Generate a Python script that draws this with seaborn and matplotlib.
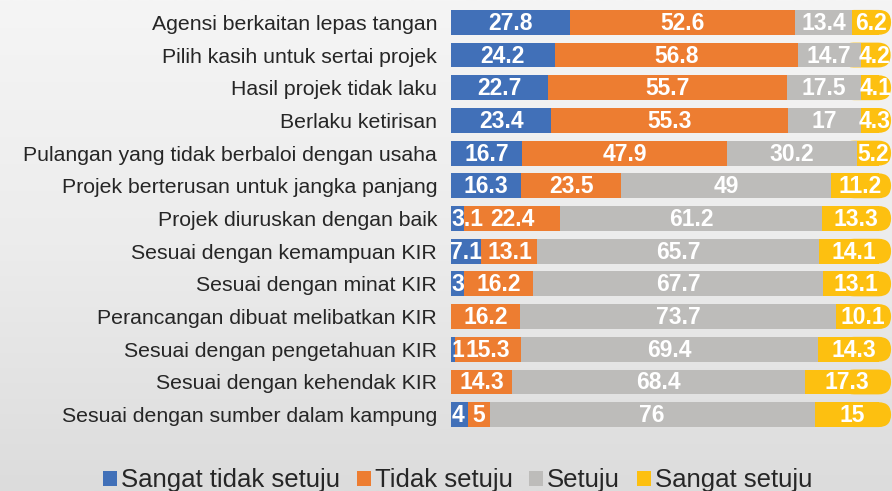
import numpy as np
import pandas as pd
import matplotlib
matplotlib.use("Agg")
import matplotlib.pyplot as plt
import seaborn as sns
from matplotlib.patches import Patch, FancyBboxPatch

categories = [
    "Agensi berkaitan lepas tangan",
    "Pilih kasih untuk sertai projek",
    "Hasil projek tidak laku",
    "Berlaku ketirisan",
    "Pulangan yang tidak berbaloi dengan usaha",
    "Projek berterusan untuk jangka panjang",
    "Projek diuruskan dengan baik",
    "Sesuai dengan kemampuan KIR",
    "Sesuai dengan minat KIR",
    "Perancangan dibuat melibatkan KIR",
    "Sesuai dengan pengetahuan KIR",
    "Sesuai dengan kehendak KIR",
    "Sesuai dengan sumber dalam kampung",
]
series_names = ["Sangat tidak setuju", "Tidak setuju", "Setuju", "Sangat setuju"]
sangat_tidak_setuju = [27.8, 24.2, 22.7, 23.4, 16.7, 16.3, 3.1, 7.1, 3, 0, 1, 0, 4]
tidak_setuju = [52.6, 56.8, 55.7, 55.3, 47.9, 23.5, 22.4, 13.1, 16.2, 16.2, 15.3, 14.3, 5]
setuju = [13.4, 14.7, 17.5, 17, 30.2, 49, 61.2, 65.7, 67.7, 73.7, 69.4, 68.4, 76]
sangat_setuju = [6.2, 4.2, 4.1, 4.3, 5.2, 11.2, 13.3, 14.1, 13.1, 10.1, 14.3, 17.3, 15]

colors = ["#4170b8", "#ed7d31", "#bdbcba", "#fdc010"]

sns.set_theme(style="white")
plt.rcParams["font.family"] = ["Liberation Sans", "DejaVu Sans"]

fig = plt.figure(figsize=(8.92, 4.91), dpi=100)

# background gradient
bg = fig.add_axes([0, 0, 1, 1], zorder=0)
grad = np.linspace(0, 1, 256).reshape(-1, 1)
bg.imshow(grad, aspect="auto", cmap=matplotlib.colors.LinearSegmentedColormap.from_list(
    "bgc", ["#f5f5f5", "#ececec", "#dcdcdc"]), extent=[0, 1, 0, 1], origin="upper")
bg.set_axis_off()

ax_px_w = 441
px_per_unit = 4.28
xmax = ax_px_w / px_per_unit
ax = fig.add_axes([451 / 892, (491 - 431) / 491, ax_px_w / 892, 425 / 491], zorder=1)
ax.patch.set_alpha(0)
ax.set_xlim(0, xmax)
ax.set_ylim(len(categories) - 0.5, -0.5)

vals = np.array([sangat_tidak_setuju, tidak_setuju, setuju, sangat_setuju])
cums = np.cumsum(vals, axis=0)
bar_h = 0.76

# rounded caps at the right end of each bar
cap_px = 12.5
cap_units = cap_px / px_per_unit
y_units_per_px = len(categories) / 425
aspect = y_units_per_px / (1 / px_per_unit)
for j in range(len(categories)):
    end = cums[3, j]
    cap = FancyBboxPatch((end - 3 * cap_units, j - bar_h / 2), 4 * cap_units - 0.1, bar_h,
                         boxstyle=f"round,pad=0,rounding_size={cap_units}",
                         mutation_aspect=aspect, facecolor=colors[3],
                         edgecolor="none", zorder=0.5)
    ax.add_patch(cap)

for i in range(3, -1, -1):
    df = pd.DataFrame({"cat": categories, "v": cums[i]})
    sns.barplot(data=df, x="v", y="cat", orient="h", color=colors[i],
                saturation=1, width=bar_h, ax=ax, edgecolor="none")

ax.set_xlim(0, xmax)
ax.set_ylim(len(categories) - 0.5, -0.5)

starts = cums - vals
for i in range(4):
    for j in range(len(categories)):
        v = vals[i, j]
        if v <= 0:
            continue
        txt = f"{v:g}"
        xc = starts[i, j] + v / 2
        ha = "center"
        if i == 3:
            xc += cap_units * 0.4
        if i == 0 and v < 7:
            xc, ha = 0.05, "left"
        ax.text(xc, j + 0.03, txt, ha=ha, va="center",
                color="white", fontsize=16.5, fontweight="bold", zorder=5)

ax.set_xlabel("")
ax.set_ylabel("")
ax.set_xticks([])
ax.tick_params(axis="y", length=0, pad=10, labelsize=15.3, labelcolor="#262626")
for s in ax.spines.values():
    s.set_visible(False)

handles = [Patch(facecolor=c, edgecolor="none") for c in colors]
fig.legend(handles, series_names, loc="lower center", ncol=4, frameon=False,
           bbox_to_anchor=(0.513, -0.05), fontsize=18.5, handlelength=0.55,
           handleheight=0.55, handletextpad=0.15, columnspacing=0.65,
           labelcolor="#262626")

fig.savefig("out.png", dpi=100)
